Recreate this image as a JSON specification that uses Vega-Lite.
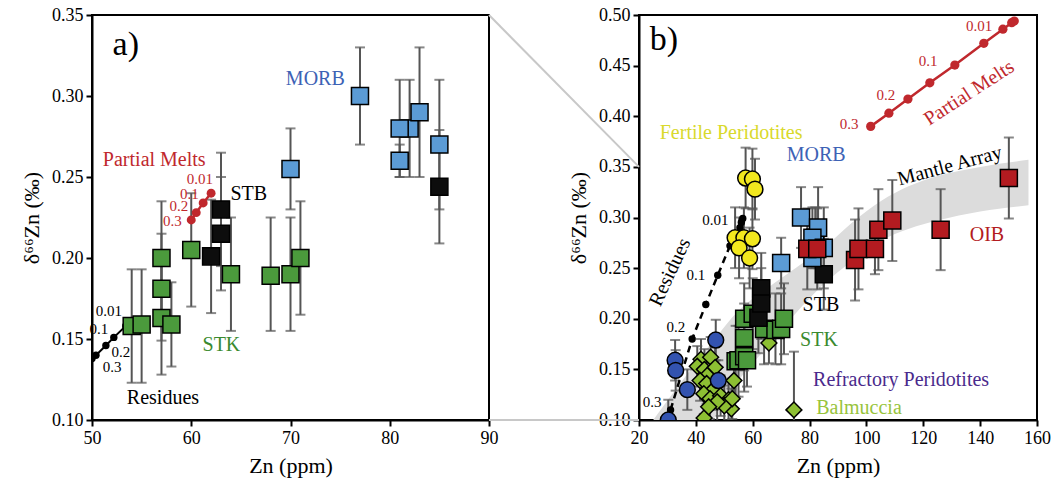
{
  "$schema": "https://vega.github.io/schema/vega-lite/v6.json",
  "background": "white",
  "padding": {"left": 19, "top": 5, "right": 5, "bottom": 5},
  "bounds": "flush",
  "spacing": 150,
  "config": {
    "font": "Liberation Serif",
    "view": {"stroke": "black", "strokeWidth": 2},
    "axis": {"grid": false, "domainColor": "black", "domainWidth": 2, "tickColor": "black", "tickWidth": 2, "tickSize": 6, "labelFlush": false,
      "labelFont": "Liberation Serif", "labelFontSize": 18, "labelColor": "black", "labelPadding": 3,
      "titleFont": "Liberation Serif", "titleFontSize": 22, "titleFontWeight": "normal", "titleColor": "black"},
    "axisX": {"titlePadding": 8},
    "axisY": {"titlePadding": 8}
  },
  "datasets": {
    "main": [
      {"g": "STK", "zn": 54, "d": 0.158, "lo": 0.123, "hi": 0.193},
      {"g": "STK", "zn": 55, "d": 0.159, "lo": 0.123, "hi": 0.193},
      {"g": "STK", "zn": 57, "d": 0.200, "lo": 0.165, "hi": 0.235},
      {"g": "STK", "zn": 57, "d": 0.181, "lo": 0.149, "hi": 0.215},
      {"g": "STK", "zn": 57, "d": 0.163, "lo": 0.128, "hi": 0.198},
      {"g": "STK", "zn": 58, "d": 0.159, "lo": 0.133, "hi": 0.185},
      {"g": "STK", "zn": 60, "d": 0.205, "lo": 0.170, "hi": 0.240},
      {"g": "STK", "zn": 64, "d": 0.190, "lo": 0.155, "hi": 0.225},
      {"g": "STK", "zn": 68, "d": 0.189, "lo": 0.155, "hi": 0.225},
      {"g": "STK", "zn": 70, "d": 0.190, "lo": 0.155, "hi": 0.225},
      {"g": "STK", "zn": 71, "d": 0.200, "lo": 0.165, "hi": 0.235},
      {"g": "STB", "zn": 62, "d": 0.201, "lo": 0.166, "hi": 0.236},
      {"g": "STB", "zn": 63, "d": 0.230, "lo": 0.195, "hi": 0.265},
      {"g": "STB", "zn": 63, "d": 0.215, "lo": 0.180, "hi": 0.250},
      {"g": "STB", "zn": 85, "d": 0.244, "lo": 0.209, "hi": 0.279},
      {"g": "MORB", "zn": 70, "d": 0.255, "lo": 0.230, "hi": 0.280},
      {"g": "MORB", "zn": 77, "d": 0.300, "lo": 0.270, "hi": 0.330},
      {"g": "MORB", "zn": 82, "d": 0.280, "lo": 0.250, "hi": 0.310},
      {"g": "MORB", "zn": 83, "d": 0.290, "lo": 0.250, "hi": 0.330},
      {"g": "MORB", "zn": 81, "d": 0.260, "lo": 0.250, "hi": 0.270},
      {"g": "MORB", "zn": 81, "d": 0.280, "lo": 0.250, "hi": 0.310},
      {"g": "MORB", "zn": 85, "d": 0.270, "lo": 0.230, "hi": 0.310}
    ],
    "lowb": [
      {"g": "Balmuccia", "zn": 41.8, "d": 0.160, "lo": 0.140, "hi": 0.180},
      {"g": "Balmuccia", "zn": 45.2, "d": 0.162, "lo": 0.142, "hi": 0.182},
      {"g": "Balmuccia", "zn": 40.5, "d": 0.153, "lo": 0.133, "hi": 0.173},
      {"g": "Balmuccia", "zn": 43.0, "d": 0.150, "lo": 0.130, "hi": 0.170},
      {"g": "Balmuccia", "zn": 46.8, "d": 0.152, "lo": 0.132, "hi": 0.172},
      {"g": "Balmuccia", "zn": 44.0, "d": 0.144, "lo": 0.124, "hi": 0.164},
      {"g": "Balmuccia", "zn": 41.5, "d": 0.139, "lo": 0.119, "hi": 0.159},
      {"g": "Balmuccia", "zn": 43.8, "d": 0.136, "lo": 0.116, "hi": 0.156},
      {"g": "Balmuccia", "zn": 46.2, "d": 0.130, "lo": 0.110, "hi": 0.150},
      {"g": "Balmuccia", "zn": 42.8, "d": 0.126, "lo": 0.106, "hi": 0.146},
      {"g": "Balmuccia", "zn": 45.0, "d": 0.121, "lo": 0.101, "hi": 0.141},
      {"g": "Balmuccia", "zn": 48.7, "d": 0.124, "lo": 0.104, "hi": 0.144},
      {"g": "Balmuccia", "zn": 51.5, "d": 0.120, "lo": 0.100, "hi": 0.140},
      {"g": "Balmuccia", "zn": 52.5, "d": 0.111, "lo": 0.091, "hi": 0.131},
      {"g": "Balmuccia", "zn": 50.0, "d": 0.114, "lo": 0.094, "hi": 0.134},
      {"g": "Balmuccia", "zn": 47.5, "d": 0.118, "lo": 0.098, "hi": 0.138},
      {"g": "Balmuccia", "zn": 53.4, "d": 0.139, "lo": 0.119, "hi": 0.159},
      {"g": "Balmuccia", "zn": 42.9, "d": 0.102, "lo": 0.082, "hi": 0.122},
      {"g": "Balmuccia", "zn": 44.5, "d": 0.113, "lo": 0.093, "hi": 0.133},
      {"g": "Balmuccia", "zn": 52.8, "d": 0.121, "lo": 0.101, "hi": 0.141},
      {"g": "Balmuccia", "zn": 65.7, "d": 0.176, "lo": 0.156, "hi": 0.196},
      {"g": "Balmuccia", "zn": 74.5, "d": 0.110, "lo": 0.0525, "hi": 0.1675},
      {"g": "Refractory", "zn": 47.0, "d": 0.179, "lo": 0.159, "hi": 0.199},
      {"g": "Refractory", "zn": 32.7, "d": 0.159, "lo": 0.139, "hi": 0.179},
      {"g": "Refractory", "zn": 32.9, "d": 0.149, "lo": 0.129, "hi": 0.169},
      {"g": "Refractory", "zn": 37.0, "d": 0.130, "lo": 0.110, "hi": 0.150},
      {"g": "Refractory", "zn": 47.9, "d": 0.139, "lo": 0.119, "hi": 0.159},
      {"g": "Refractory", "zn": 30.3, "d": 0.100, "lo": 0.080, "hi": 0.120},
      {"g": "Fertile", "zn": 57.5, "d": 0.339, "lo": 0.309, "hi": 0.369},
      {"g": "Fertile", "zn": 59.9, "d": 0.338, "lo": 0.308, "hi": 0.368},
      {"g": "Fertile", "zn": 60.8, "d": 0.328, "lo": 0.298, "hi": 0.358},
      {"g": "Fertile", "zn": 53.8, "d": 0.280, "lo": 0.250, "hi": 0.310},
      {"g": "Fertile", "zn": 56.9, "d": 0.280, "lo": 0.250, "hi": 0.310},
      {"g": "Fertile", "zn": 59.9, "d": 0.279, "lo": 0.249, "hi": 0.309},
      {"g": "Fertile", "zn": 55.2, "d": 0.270, "lo": 0.240, "hi": 0.300},
      {"g": "Fertile", "zn": 58.9, "d": 0.260, "lo": 0.230, "hi": 0.290}
    ],
    "oib": [
      {"g": "OIB", "zn": 79.2, "d": 0.269, "lo": 0.229, "hi": 0.309},
      {"g": "OIB", "zn": 82.7, "d": 0.269, "lo": 0.229, "hi": 0.309},
      {"g": "OIB", "zn": 96.0, "d": 0.258, "lo": 0.218, "hi": 0.298},
      {"g": "OIB", "zn": 97.2, "d": 0.269, "lo": 0.229, "hi": 0.309},
      {"g": "OIB", "zn": 103.0, "d": 0.269, "lo": 0.244, "hi": 0.294},
      {"g": "OIB", "zn": 104.2, "d": 0.288, "lo": 0.248, "hi": 0.328},
      {"g": "OIB", "zn": 109.1, "d": 0.297, "lo": 0.257, "hi": 0.337},
      {"g": "OIB", "zn": 126.1, "d": 0.288, "lo": 0.248, "hi": 0.328},
      {"g": "OIB", "zn": 150.1, "d": 0.339, "lo": 0.299, "hi": 0.379}
    ],
    "band": [
      {"zn": 25, "lo": 0.000, "hi": 0.100},
      {"zn": 35, "lo": 0.040, "hi": 0.138},
      {"zn": 46, "lo": 0.100, "hi": 0.178},
      {"zn": 55, "lo": 0.139, "hi": 0.208},
      {"zn": 65, "lo": 0.172, "hi": 0.230},
      {"zn": 75, "lo": 0.205, "hi": 0.250},
      {"zn": 85, "lo": 0.234, "hi": 0.270},
      {"zn": 95, "lo": 0.257, "hi": 0.295},
      {"zn": 105, "lo": 0.277, "hi": 0.316},
      {"zn": 115, "lo": 0.289, "hi": 0.331},
      {"zn": 125, "lo": 0.297, "hi": 0.341},
      {"zn": 140, "lo": 0.306, "hi": 0.350},
      {"zn": 157, "lo": 0.312, "hi": 0.357}
    ],
    "zoomlines": [
      {"seg": "top", "zn": -32.76, "d": 0.50},
      {"seg": "top", "zn": 20, "d": 0.35},
      {"seg": "bottom", "zn": -32.76, "d": 0.10},
      {"seg": "bottom", "zn": 20, "d": 0.10}
    ],
    "resA": [
      {"zn": 50.0, "d": 0.138},
      {"zn": 50.4, "d": 0.140},
      {"zn": 51.4, "d": 0.146},
      {"zn": 52.2, "d": 0.151},
      {"zn": 53.4, "d": 0.158}
    ],
    "meltA": [
      {"zn": 60.0, "d": 0.2235},
      {"zn": 60.5, "d": 0.228},
      {"zn": 61.2, "d": 0.234},
      {"zn": 62.0, "d": 0.240}
    ],
    "resB": [
      {"zn": 31.1, "d": 0.110},
      {"zn": 38.7, "d": 0.180},
      {"zn": 43.5, "d": 0.214},
      {"zn": 47.7, "d": 0.243},
      {"zn": 52.0, "d": 0.272},
      {"zn": 55.5, "d": 0.290},
      {"zn": 56.0, "d": 0.295},
      {"zn": 56.5, "d": 0.299}
    ],
    "meltB": [
      {"zn": 101.5, "d": 0.390},
      {"zn": 107.9, "d": 0.403},
      {"zn": 114.6, "d": 0.417},
      {"zn": 122.3, "d": 0.433},
      {"zn": 131.1, "d": 0.4506},
      {"zn": 141.3, "d": 0.472},
      {"zn": 148.0, "d": 0.486},
      {"zn": 151.1, "d": 0.4924},
      {"zn": 152.0, "d": 0.494}
    ],
    "labA": [
      {"t": "MORB", "g": "MORB label", "zn": 72.5, "d": 0.3105},
      {"t": "Partial Melts", "g": "Melt", "zn": 56.27, "d": 0.2605},
      {"t": "STB", "g": "Black", "zn": 65.8, "d": 0.2395},
      {"t": "STK", "g": "STK label", "zn": 63.04, "d": 0.146},
      {"t": "Residues", "g": "Black", "zn": 57.15, "d": 0.1134}
    ],
    "numA": [
      {"t": "0.01", "g": "Black", "zn": 51.7, "d": 0.1673},
      {"t": "0.1", "g": "Black", "zn": 50.7, "d": 0.156},
      {"t": "0.2", "g": "Black", "zn": 52.9, "d": 0.142},
      {"t": "0.3", "g": "Black", "zn": 52.04, "d": 0.1325},
      {"t": "0.01", "g": "Melt", "zn": 60.86, "d": 0.2488},
      {"t": "0.1", "g": "Melt", "zn": 59.8, "d": 0.2398},
      {"t": "0.2", "g": "Melt", "zn": 58.76, "d": 0.2322},
      {"t": "0.3", "g": "Melt", "zn": 58.1, "d": 0.2229}
    ],
    "panelA": [{"t": "a)", "zn": 53.4, "d": 0.3315}],
    "panelB": [{"t": "b)", "zn": 28.8, "d": 0.475}],
    "labB": [
      {"t": "Fertile Peridotites", "g": "Fertile label", "zn": 52.4, "d": 0.3835},
      {"t": "MORB", "g": "MORB label", "zn": 82.3, "d": 0.3617},
      {"t": "OIB", "g": "OIB", "zn": 142.4, "d": 0.2827},
      {"t": "STB", "g": "Black", "zn": 84.0, "d": 0.2136},
      {"t": "STK", "g": "STK label", "zn": 83.3, "d": 0.179},
      {"t": "Refractory Peridotites", "g": "Refractory label", "zn": 112.2, "d": 0.1395},
      {"t": "Balmuccia", "g": "Balmuccia label", "zn": 97.4, "d": 0.112}
    ],
    "numB": [
      {"t": "0.01", "g": "Black", "zn": 46.9, "d": 0.2975},
      {"t": "0.1", "g": "Black", "zn": 40.0, "d": 0.243},
      {"t": "0.2", "g": "Black", "zn": 33.0, "d": 0.192},
      {"t": "0.3", "g": "Black", "zn": 24.6, "d": 0.118},
      {"t": "0.3", "g": "Melt", "zn": 93.9, "d": 0.392},
      {"t": "0.2", "g": "Melt", "zn": 106.8, "d": 0.421},
      {"t": "0.1", "g": "Melt", "zn": 121.7, "d": 0.4546},
      {"t": "0.01", "g": "Melt", "zn": 139.6, "d": 0.489}
    ],
    "rotMelt": [{"t": "Partial Melts", "g": "Melt", "zn": 136.1, "d": 0.423}],
    "rotMantle": [{"t": "Mantle Array", "g": "Black", "zn": 129.3, "d": 0.351}],
    "rotRes": [{"t": "Residues", "g": "Black", "zn": 30.9, "d": 0.246}]
  },
  "hconcat": [
    {
      "width": 397,
      "height": 405,
      "layer": [
        {
          "data": {"name": "main"},
          "mark": {"type": "errorbar", "ticks": true, "size": 10, "thickness": 2, "color": "#555555"},
          "encoding": {
            "x": {"field": "zn", "type": "quantitative", "scale": {"domain": [50, 90], "nice": false, "zero": false}, "axis": {"values": [50, 60, 70, 80, 90], "format": "d"}, "title": "Zn (ppm)"},
            "y": {"field": "lo", "type": "quantitative", "scale": {"domain": [0.10, 0.35], "nice": false, "zero": false}, "axis": {"values": [0.10, 0.15, 0.20, 0.25, 0.30, 0.35], "format": ".2f"}, "title": "δ⁶⁶Zn (‰)"},
            "y2": {"field": "hi"}
          }
        },
        {
          "data": {"name": "resA"},
          "mark": {"type": "line", "color": "black", "strokeWidth": 2, "clip": true},
          "encoding": {
            "x": {"field": "zn", "type": "quantitative", "title": "Zn (ppm)"},
            "y": {"field": "d", "type": "quantitative", "title": "δ⁶⁶Zn (‰)"}
          }
        },
        {
          "data": {"name": "resA"},
          "mark": {"type": "circle", "color": "black", "size": 55, "opacity": 1, "clip": true},
          "encoding": {
            "x": {"field": "zn", "type": "quantitative", "title": "Zn (ppm)"},
            "y": {"field": "d", "type": "quantitative", "title": "δ⁶⁶Zn (‰)"}
          }
        },
        {
          "data": {"name": "main"},
          "mark": {"type": "point", "shape": "square", "filled": true, "size": 290, "stroke": "black", "strokeWidth": 1.5, "opacity": 1},
          "encoding": {
            "x": {"field": "zn", "type": "quantitative", "title": "Zn (ppm)"},
            "y": {"field": "d", "type": "quantitative", "title": "δ⁶⁶Zn (‰)"},
            "fill": {"field": "g", "type": "nominal", "scale": {"domain": ["STK", "STB", "MORB", "OIB", "Fertile", "Refractory", "Balmuccia", "Melt", "Black", "MORB label", "STK label", "Fertile label", "Refractory label", "Balmuccia label"], "range": ["#4b9a3c", "#0d0d0d", "#5b9bd5", "#b31b20", "#f2e81e", "#3353b0", "#8dbf33", "#c0282d", "#000000", "#3d62b5", "#3a8a2e", "#d9d92c", "#4a2a8c", "#98c43c"]}, "legend": null}
          }
        },
        {
          "data": {"name": "meltA"},
          "mark": {"type": "line", "color": "#c0282d", "strokeWidth": 2.5},
          "encoding": {
            "x": {"field": "zn", "type": "quantitative", "title": "Zn (ppm)"},
            "y": {"field": "d", "type": "quantitative", "title": "δ⁶⁶Zn (‰)"}
          }
        },
        {
          "data": {"name": "meltA"},
          "mark": {"type": "circle", "color": "#c0282d", "size": 80, "opacity": 1},
          "encoding": {
            "x": {"field": "zn", "type": "quantitative", "title": "Zn (ppm)"},
            "y": {"field": "d", "type": "quantitative", "title": "δ⁶⁶Zn (‰)"}
          }
        },
        {
          "data": {"name": "labA"},
          "mark": {"type": "text", "fontSize": 20, "font": "Liberation Serif", "baseline": "middle", "align": "center"},
          "encoding": {
            "x": {"field": "zn", "type": "quantitative", "title": "Zn (ppm)"},
            "y": {"field": "d", "type": "quantitative", "title": "δ⁶⁶Zn (‰)"},
            "text": {"field": "t"},
            "color": {"field": "g", "type": "nominal", "scale": {"domain": ["STK", "STB", "MORB", "OIB", "Fertile", "Refractory", "Balmuccia", "Melt", "Black", "MORB label", "STK label", "Fertile label", "Refractory label", "Balmuccia label"], "range": ["#4b9a3c", "#0d0d0d", "#5b9bd5", "#b31b20", "#f2e81e", "#3353b0", "#8dbf33", "#c0282d", "#000000", "#3d62b5", "#3a8a2e", "#d9d92c", "#4a2a8c", "#98c43c"]}, "legend": null}
          }
        },
        {
          "data": {"name": "numA"},
          "mark": {"type": "text", "fontSize": 15, "font": "Liberation Serif", "baseline": "middle", "align": "center"},
          "encoding": {
            "x": {"field": "zn", "type": "quantitative", "title": "Zn (ppm)"},
            "y": {"field": "d", "type": "quantitative", "title": "δ⁶⁶Zn (‰)"},
            "text": {"field": "t"},
            "color": {"field": "g", "type": "nominal", "legend": null}
          }
        },
        {
          "data": {"name": "panelA"},
          "mark": {"type": "text", "fontSize": 34, "font": "Liberation Serif", "baseline": "middle", "align": "center", "color": "black"},
          "encoding": {
            "x": {"field": "zn", "type": "quantitative", "title": "Zn (ppm)"},
            "y": {"field": "d", "type": "quantitative", "title": "δ⁶⁶Zn (‰)"},
            "text": {"field": "t"}
          }
        }
      ]
    },
    {
      "width": 398,
      "height": 405,
      "layer": [
        {
          "data": {"name": "band"},
          "mark": {"type": "area", "color": "#dcdcdc", "opacity": 1, "interpolate": "monotone", "clip": true},
          "encoding": {
            "x": {"field": "zn", "type": "quantitative", "scale": {"domain": [20, 160], "nice": false, "zero": false}, "axis": {"values": [20, 40, 60, 80, 100, 120, 140, 160], "format": "d"}, "title": "Zn (ppm)"},
            "y": {"field": "lo", "type": "quantitative", "scale": {"domain": [0.10, 0.50], "nice": false, "zero": false}, "axis": {"values": [0.10, 0.15, 0.20, 0.25, 0.30, 0.35, 0.40, 0.45, 0.50], "format": ".2f"}, "title": "δ⁶⁶Zn (‰)"},
            "y2": {"field": "hi"}
          }
        },
        {
          "data": {"name": "zoomlines"},
          "mark": {"type": "line", "color": "#c8c8c8", "strokeWidth": 2, "clip": false},
          "encoding": {
            "x": {"field": "zn", "type": "quantitative", "title": "Zn (ppm)"},
            "y": {"field": "d", "type": "quantitative", "title": "δ⁶⁶Zn (‰)"},
            "detail": {"field": "seg"}
          }
        },
        {
          "data": {"name": "lowb"},
          "mark": {"type": "errorbar", "ticks": true, "size": 10, "thickness": 2, "color": "#555555", "clip": true},
          "encoding": {
            "x": {"field": "zn", "type": "quantitative", "title": "Zn (ppm)"},
            "y": {"field": "lo", "type": "quantitative", "title": "δ⁶⁶Zn (‰)"},
            "y2": {"field": "hi"}
          }
        },
        {
          "data": {"name": "main"},
          "mark": {"type": "errorbar", "ticks": true, "size": 10, "thickness": 2, "color": "#555555", "clip": true},
          "encoding": {
            "x": {"field": "zn", "type": "quantitative", "title": "Zn (ppm)"},
            "y": {"field": "lo", "type": "quantitative", "title": "δ⁶⁶Zn (‰)"},
            "y2": {"field": "hi"}
          }
        },
        {
          "data": {"name": "oib"},
          "mark": {"type": "errorbar", "ticks": true, "size": 10, "thickness": 2, "color": "#555555", "clip": true},
          "encoding": {
            "x": {"field": "zn", "type": "quantitative", "title": "Zn (ppm)"},
            "y": {"field": "lo", "type": "quantitative", "title": "δ⁶⁶Zn (‰)"},
            "y2": {"field": "hi"}
          }
        },
        {
          "data": {"name": "resB"},
          "mark": {"type": "line", "color": "black", "strokeWidth": 2.5, "strokeDash": [7, 5], "clip": true},
          "encoding": {
            "x": {"field": "zn", "type": "quantitative", "title": "Zn (ppm)"},
            "y": {"field": "d", "type": "quantitative", "title": "δ⁶⁶Zn (‰)"}
          }
        },
        {
          "data": {"name": "resB"},
          "mark": {"type": "circle", "color": "black", "size": 55, "opacity": 1, "clip": true},
          "encoding": {
            "x": {"field": "zn", "type": "quantitative", "title": "Zn (ppm)"},
            "y": {"field": "d", "type": "quantitative", "title": "δ⁶⁶Zn (‰)"}
          }
        },
        {
          "data": {"name": "lowb"},
          "mark": {"type": "point", "filled": true, "size": 250, "stroke": "black", "strokeWidth": 1.5, "opacity": 1, "clip": true},
          "encoding": {
            "x": {"field": "zn", "type": "quantitative", "title": "Zn (ppm)"},
            "y": {"field": "d", "type": "quantitative", "title": "δ⁶⁶Zn (‰)"},
            "fill": {"field": "g", "type": "nominal", "scale": {"domain": ["STK", "STB", "MORB", "OIB", "Fertile", "Refractory", "Balmuccia", "Melt", "Black", "MORB label", "STK label", "Fertile label", "Refractory label", "Balmuccia label"], "range": ["#4b9a3c", "#0d0d0d", "#5b9bd5", "#b31b20", "#f2e81e", "#3353b0", "#8dbf33", "#c0282d", "#000000", "#3d62b5", "#3a8a2e", "#d9d92c", "#4a2a8c", "#98c43c"]}, "legend": null},
            "shape": {"field": "g", "type": "nominal", "scale": {"domain": ["Fertile", "Refractory", "Balmuccia"], "range": ["circle", "circle", "diamond"]}, "legend": null}
          }
        },
        {
          "data": {"name": "main"},
          "mark": {"type": "point", "shape": "square", "filled": true, "size": 290, "stroke": "black", "strokeWidth": 1.5, "opacity": 1, "clip": true},
          "encoding": {
            "x": {"field": "zn", "type": "quantitative", "title": "Zn (ppm)"},
            "y": {"field": "d", "type": "quantitative", "title": "δ⁶⁶Zn (‰)"},
            "fill": {"field": "g", "type": "nominal", "legend": null}
          }
        },
        {
          "data": {"name": "oib"},
          "mark": {"type": "point", "shape": "square", "filled": true, "size": 290, "stroke": "black", "strokeWidth": 1.5, "opacity": 1, "clip": true},
          "encoding": {
            "x": {"field": "zn", "type": "quantitative", "title": "Zn (ppm)"},
            "y": {"field": "d", "type": "quantitative", "title": "δ⁶⁶Zn (‰)"},
            "fill": {"field": "g", "type": "nominal", "legend": null}
          }
        },
        {
          "data": {"name": "meltB"},
          "mark": {"type": "line", "color": "#c0282d", "strokeWidth": 2.5},
          "encoding": {
            "x": {"field": "zn", "type": "quantitative", "title": "Zn (ppm)"},
            "y": {"field": "d", "type": "quantitative", "title": "δ⁶⁶Zn (‰)"}
          }
        },
        {
          "data": {"name": "meltB"},
          "mark": {"type": "circle", "color": "#c0282d", "size": 85, "opacity": 1},
          "encoding": {
            "x": {"field": "zn", "type": "quantitative", "title": "Zn (ppm)"},
            "y": {"field": "d", "type": "quantitative", "title": "δ⁶⁶Zn (‰)"}
          }
        },
        {
          "data": {"name": "labB"},
          "mark": {"type": "text", "fontSize": 20, "font": "Liberation Serif", "baseline": "middle", "align": "center"},
          "encoding": {
            "x": {"field": "zn", "type": "quantitative", "title": "Zn (ppm)"},
            "y": {"field": "d", "type": "quantitative", "title": "δ⁶⁶Zn (‰)"},
            "text": {"field": "t"},
            "color": {"field": "g", "type": "nominal", "legend": null}
          }
        },
        {
          "data": {"name": "numB"},
          "mark": {"type": "text", "fontSize": 15, "font": "Liberation Serif", "baseline": "middle", "align": "center"},
          "encoding": {
            "x": {"field": "zn", "type": "quantitative", "title": "Zn (ppm)"},
            "y": {"field": "d", "type": "quantitative", "title": "δ⁶⁶Zn (‰)"},
            "text": {"field": "t"},
            "color": {"field": "g", "type": "nominal", "legend": null}
          }
        },
        {
          "data": {"name": "rotMelt"},
          "mark": {"type": "text", "fontSize": 20, "font": "Liberation Serif", "baseline": "middle", "align": "center", "angle": 327},
          "encoding": {
            "x": {"field": "zn", "type": "quantitative", "title": "Zn (ppm)"},
            "y": {"field": "d", "type": "quantitative", "title": "δ⁶⁶Zn (‰)"},
            "text": {"field": "t"},
            "color": {"field": "g", "type": "nominal", "legend": null}
          }
        },
        {
          "data": {"name": "rotMantle"},
          "mark": {"type": "text", "fontSize": 20, "font": "Liberation Serif", "baseline": "middle", "align": "center", "angle": 345},
          "encoding": {
            "x": {"field": "zn", "type": "quantitative", "title": "Zn (ppm)"},
            "y": {"field": "d", "type": "quantitative", "title": "δ⁶⁶Zn (‰)"},
            "text": {"field": "t"},
            "color": {"field": "g", "type": "nominal", "legend": null}
          }
        },
        {
          "data": {"name": "rotRes"},
          "mark": {"type": "text", "fontSize": 20, "font": "Liberation Serif", "baseline": "middle", "align": "center", "angle": 295},
          "encoding": {
            "x": {"field": "zn", "type": "quantitative", "title": "Zn (ppm)"},
            "y": {"field": "d", "type": "quantitative", "title": "δ⁶⁶Zn (‰)"},
            "text": {"field": "t"},
            "color": {"field": "g", "type": "nominal", "legend": null}
          }
        },
        {
          "data": {"name": "panelB"},
          "mark": {"type": "text", "fontSize": 34, "font": "Liberation Serif", "baseline": "middle", "align": "center", "color": "black"},
          "encoding": {
            "x": {"field": "zn", "type": "quantitative", "title": "Zn (ppm)"},
            "y": {"field": "d", "type": "quantitative", "title": "δ⁶⁶Zn (‰)"},
            "text": {"field": "t"}
          }
        }
      ]
    }
  ]
}
